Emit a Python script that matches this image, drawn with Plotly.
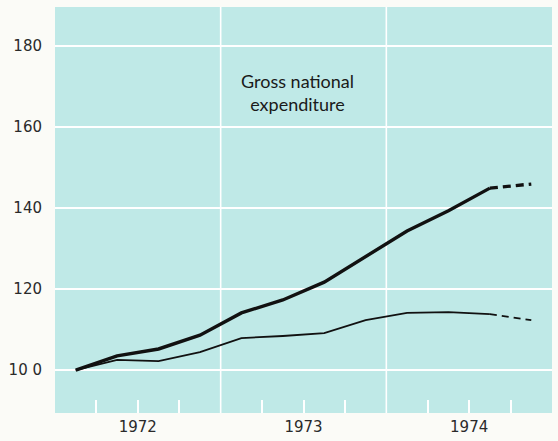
import plotly.graph_objects as go

# Quarter positions (mid-quarter, in quarters from start of 1972)
quarters = [0.5, 1.5, 2.5, 3.5, 4.5, 5.5, 6.5, 7.5, 8.5, 9.5, 10.5]
forecast_quarters = [10.5, 11.5]

gne_total = [100, 103.5, 105.2, 108.6, 114.1, 117.3, 121.7, 127.9, 134.3, 139.3, 144.9]
gne_total_forecast = [144.9, 145.9]

gne_real = [100, 102.5, 102.2, 104.4, 107.9, 108.4, 109.1, 112.3, 114.1, 114.3, 113.8]
gne_real_forecast = [113.8, 112.3]

years = ["1972", "1973", "1974"]
y_ticks = [100, 120, 140, 160, 180]
y_tick_text = ["10 0", "120", "140", "160", "180"]

BG = "#bfe9e7"
INK = "#111111"

fig = go.Figure()

fig.add_trace(go.Scatter(x=quarters, y=gne_total, mode="lines",
                         line=dict(color=INK, width=3.4), showlegend=False, hoverinfo="skip"))
fig.add_trace(go.Scatter(x=forecast_quarters, y=gne_total_forecast, mode="lines",
                         line=dict(color=INK, width=3.4, dash="8px,5px"), showlegend=False, hoverinfo="skip"))
fig.add_trace(go.Scatter(x=quarters, y=gne_real, mode="lines",
                         line=dict(color=INK, width=1.8), showlegend=False, hoverinfo="skip"))
fig.add_trace(go.Scatter(x=forecast_quarters, y=gne_real_forecast, mode="lines",
                         line=dict(color=INK, width=1.8, dash="7px,5px"), showlegend=False, hoverinfo="skip"))

# Year boundary lines (white, full height)
for i in range(1, len(years)):
    fig.add_shape(type="line", xref="x", yref="paper", x0=4 * i, x1=4 * i, y0=0, y1=1,
                  line=dict(color="white", width=1.6), layer="below")

# Base line at 100
fig.add_shape(type="line", xref="paper", yref="y", x0=0, x1=0.99, y0=100, y1=100,
              line=dict(color=INK, width=1.5), layer="below")

year_centers = [4 * i + 2 for i in range(len(years))]
quarter_ticks = [q for q in range(1, 4 * len(years)) if q % 4 != 0 and q % 4 != 2]

fig.add_annotation(x=5.85, y=168.4, xref="x", yref="y",
                   text="Gross national<br>expenditure", showarrow=False,
                   font=dict(family="Lato, 'Open Sans', sans-serif", size=18, color="#1a1a1a"),
                   align="center")

fig.update_layout(
    width=558, height=441,
    margin=dict(l=55, r=6, t=7, b=28),
    paper_bgcolor="#fbfbf7",
    plot_bgcolor=BG,
    xaxis=dict(range=[0, 12], tickvals=year_centers, ticktext=years,
               ticks="inside", ticklen=13, tickwidth=1.6, tickcolor="white",
               showgrid=False, zeroline=False, showline=False,
               ticklabelstandoff=3, automargin=False,
               minor=dict(tickvals=quarter_ticks, ticks="inside", ticklen=13,
                          tickwidth=1.6, tickcolor="white", showgrid=False),
               tickfont=dict(family="DejaVu Sans", size=15, color="#2a2a2a"),
               fixedrange=True),
    yaxis=dict(range=[89.4, 189.6], tickvals=y_ticks, ticktext=y_tick_text,
               showgrid=True, gridcolor="white", gridwidth=1.6,
               zeroline=False, showline=False, ticks="",
               ticklabelstandoff=12, automargin=False,
               tickfont=dict(family="DejaVu Sans", size=15, color="#2a2a2a"),
               fixedrange=True),
)

fig.write_html("out.html", config={"displayModeBar": False},
               post_script="document.body.style.margin='0';document.body.style.background='#fbfbf7';")
